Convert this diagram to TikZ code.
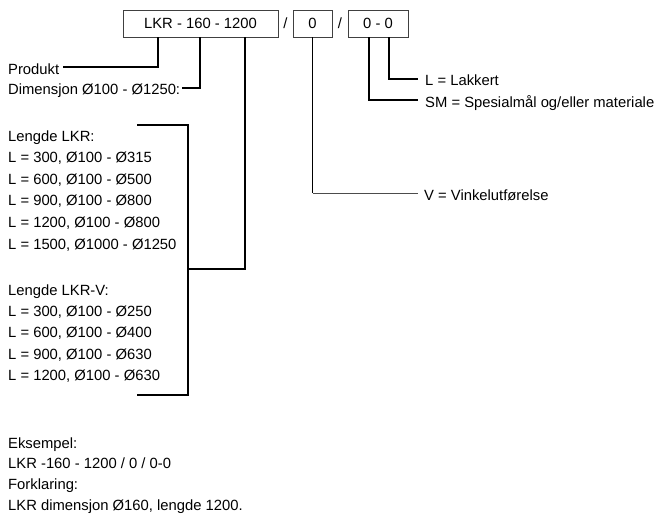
\documentclass[tikz,border=0pt]{standalone}
\usepackage{fontspec}
\setmainfont{Liberation Sans}
\usetikzlibrary{calc}
\begin{document}
\begin{tikzpicture}[x=1pt,y=-1pt,
  txt/.style={anchor=base west,inner sep=0pt,font=\fontsize{14.8}{16}\selectfont},
  boxtxt/.style={draw=black!75,line width=0.8pt,minimum height=27pt,inner sep=0pt,font=\fontsize{14.8}{16}\selectfont},
  conn/.style={line width=1.9pt,black},
  thinconn/.style={line width=1.1pt,black!70}]
\useasboundingbox (0,0) rectangle (660,515);
% boxes
\node[boxtxt,minimum width=155pt] (b1) at (200.5,23.5) {LKR - 160 - 1200};
\node[boxtxt,minimum width=39pt] (b2) at (312.5,23.5) {0};
\node[boxtxt,minimum width=60pt] (b3) at (378,23.5) {0 - 0};
\node[inner sep=0pt,font=\fontsize{14.8}{16}\selectfont] (s1) at (285.5,23.5) {/};
\node[inner sep=0pt,font=\fontsize{14.8}{16}\selectfont] (s2) at (340,23.5) {/};
% left texts
\node[txt] (prod) at (8,74) {Produkt};
\node[txt] (dim) at (8,94) {Dimensjon Ø100 - Ø1250:};
\node[txt] (l0) at (8,141) {Lengde LKR:};
\node[txt] (l1) at (8,162.6) {L = 300, Ø100 - Ø315};
\node[txt] (l2) at (8,184.2) {L = 600, Ø100 - Ø500};
\node[txt] (l3) at (8,205.8) {L = 900, Ø100 - Ø800};
\node[txt] (l4) at (8,227.4) {L = 1200, Ø100 - Ø800};
\node[txt] (l5) at (8,249) {L = 1500, Ø1000 - Ø1250};
\node[txt] (v0) at (8,295) {Lengde LKR-V:};
\node[txt] (v1) at (8,316.4) {L = 300, Ø100 - Ø250};
\node[txt] (v2) at (8,337.8) {L = 600, Ø100 - Ø400};
\node[txt] (v3) at (8,359.2) {L = 900, Ø100 - Ø630};
\node[txt] (v4) at (8,380.6) {L = 1200, Ø100 - Ø630};
\node[txt] (e0) at (8,448) {Eksempel:};
\node[txt] (e1) at (8,468.7) {LKR -160 - 1200 / 0 / 0-0};
\node[txt] (e2) at (8,489.3) {Forklaring:};
\node[txt] (e3) at (8,510) {LKR dimensjon Ø160, lengde 1200.};
% right texts
\node[txt] (lak) at (425,85) {L = Lakkert};
\node[txt] (sm) at (425,107) {SM = Spesialmål og/eller materiale};
\node[txt] (vin) at (424,200.7) {V = Vinkelutførelse};
% helper coordinates
\coordinate (bt) at (188,125);
\coordinate (bb) at (188,395);
\coordinate (btl) at (137,125);
\coordinate (bbl) at (137,395);
\coordinate (bm) at (188,269);
\coordinate (pc) at ($(prod.base east)+(4,-6.7)$);
\coordinate (dc) at ($(dim.base east)+(2,-5.7)$);
\coordinate (vc) at ($(vin.base west)+(-6,-7.4)$);
\coordinate (lc) at ($(lak.base west)+(-7,-6)$);
\coordinate (sc) at ($(sm.base west)+(-7,-7)$);
% connectors
\draw[conn] (pc) -| ($(b1.south west)+(35,0)$);
\draw[conn] (dc) -| ($(b1.south west)+(77,0)$);
\draw[conn] (btl) -- (bt) -- (bb) -- (bbl);
\draw[conn] (bm) -| ($(b1.south west)+(122,0)$);
\draw[conn] (b2.south) -- (b2.south |- vc);
\draw[thinconn] (b2.south |- vc) -- (vc);
\draw[conn] ($(b3.south west)+(41,0)$) |- (lc);
\draw[conn] ($(b3.south west)+(21,0)$) |- (sc);
\end{tikzpicture}
\end{document}
